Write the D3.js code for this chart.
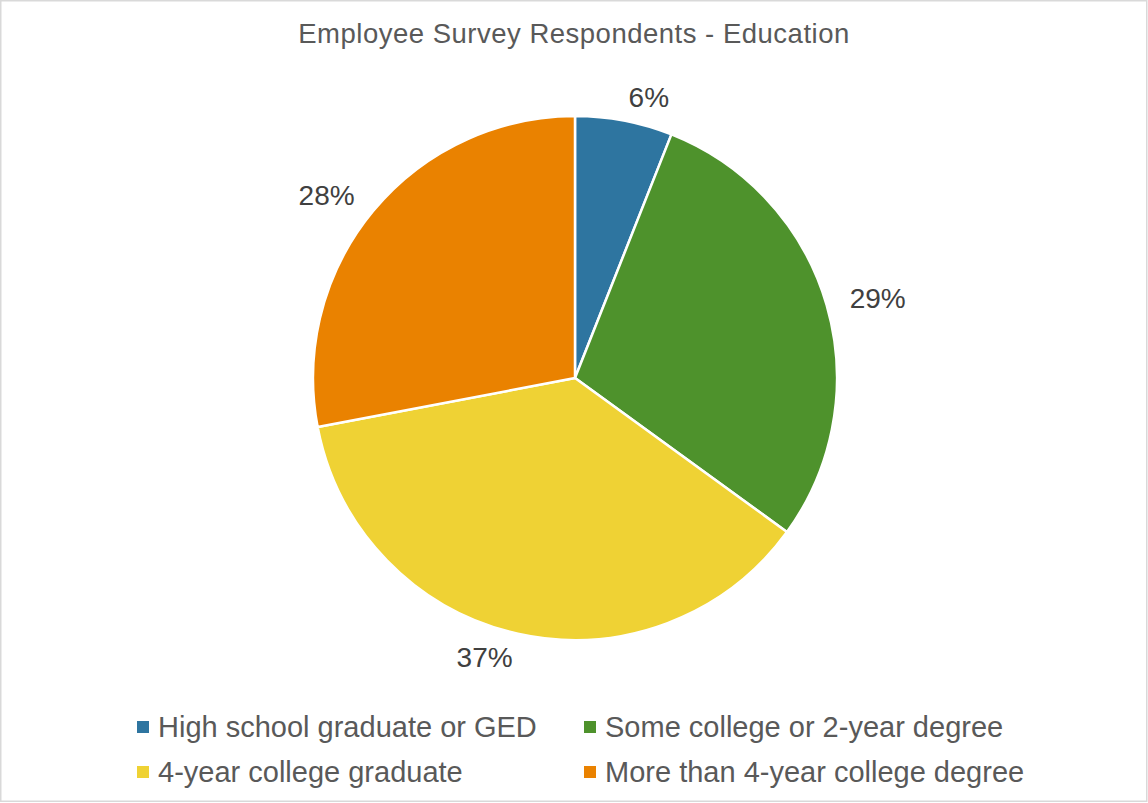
<!DOCTYPE html>
<html>
<head>
<meta charset="utf-8">
<script src="https://cdn.jsdelivr.net/npm/d3@7"></script>
<style>
  html, body { margin: 0; padding: 0; background: #fff; }
  svg { display: block; font-family: "Liberation Sans", Arial, sans-serif; }
</style>
</head>
<body>
<svg id="chart" width="1148" height="803"></svg>
<script>
// Education level of survey respondents (share of total, %)
const categories = [
  "High school graduate or GED",
  "Some college or 2-year degree",
  "4-year college graduate",
  "More than 4-year college degree"
];
const values = [6, 29, 37, 28];
const colors = ["#2E75A0", "#4E922C", "#EFD234", "#EA8200"];
const titleText = "Employee Survey Respondents - Education";

const W = 1148, H = 803;
const svg = d3.select("#chart");

// outer frame
svg.append("rect")
  .attr("x", 0.75).attr("y", 0.75)
  .attr("width", W - 2).attr("height", H - 2.5)
  .attr("fill", "#fff")
  .attr("stroke", "#d9d9d9")
  .attr("stroke-width", 1.5);

// title
svg.append("text")
  .attr("x", 574).attr("y", 43)
  .attr("text-anchor", "middle")
  .attr("font-size", 27.5)
  .attr("letter-spacing", 0.5)
  .attr("fill", "#595959")
  .text(titleText);

const cx = 575, cy = 378, r = 262;
const color = d3.scaleOrdinal().domain(categories).range(colors);

const pie = d3.pie().sort(null).value(d => d.value);
const data = categories.map((c, i) => ({ name: c, value: values[i] }));
const arcs = pie(data);

const arc = d3.arc().innerRadius(0).outerRadius(r);
const labelR = r + 24;
const labelArc = d3.arc().innerRadius(labelR).outerRadius(labelR);

const g = svg.append("g").attr("transform", `translate(${cx},${cy})`);

g.selectAll("path.slice")
  .data(arcs)
  .join("path")
  .attr("class", "slice")
  .attr("d", arc)
  .attr("fill", d => color(d.data.name))
  .attr("stroke", "#fff")
  .attr("stroke-width", 2.5)
  .attr("stroke-linejoin", "round");

// percentage labels outside each slice, anchored away from the pie
const midAngle = d => (d.startAngle + d.endAngle) / 2;
g.selectAll("text.pct")
  .data(arcs)
  .join("text")
  .attr("class", "pct")
  .attr("transform", d => {
    const [x, y] = labelArc.centroid(d);
    return `translate(${x},${y})`;
  })
  .attr("text-anchor", d => Math.sin(midAngle(d)) >= 0 ? "start" : "end")
  .attr("dominant-baseline", "central")
  .attr("font-size", 28)
  .attr("fill", "#404040")
  .text(d => d3.format(".0%")(d.data.value / 100));

// legend: two columns, two rows
const legendCols = [137, 584];
const legendRows = [727, 772];
const legend = svg.append("g");
categories.forEach((c, i) => {
  const x = legendCols[i % 2];
  const y = legendRows[Math.floor(i / 2)];
  legend.append("rect")
    .attr("x", x).attr("y", y - 6)
    .attr("width", 12).attr("height", 12)
    .attr("fill", color(c));
  legend.append("text")
    .attr("x", x + 21).attr("y", y)
    .attr("dominant-baseline", "central")
    .attr("font-size", 29)
    .attr("fill", "#595959")
    .text(c);
});
</script>
</body>
</html>
